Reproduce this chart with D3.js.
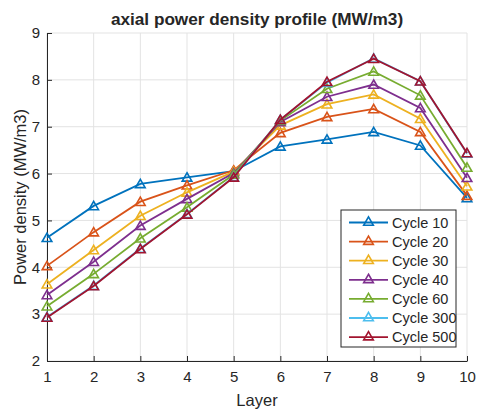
<!DOCTYPE html>
<html>
  <head>
    <meta charset="utf-8" />
    <title>axial power density profile</title>
    <style>
      body { margin: 0; background: #fff; }
      svg text { font-family: "Liberation Sans", Arial, sans-serif; fill: #262626; }
    </style>
  </head>
  <body>
    <svg width="477" height="409"></svg>

    <script type="text/javascript" src="https://d3js.org/d3.v7.min.js"></script>
    <script type="text/javascript">
      // chart data
      const layers = [1, 2, 3, 4, 5, 6, 7, 8, 9, 10];
      const seriesNames = ["Cycle 10", "Cycle 20", "Cycle 30", "Cycle 40", "Cycle 60", "Cycle 300", "Cycle 500"];
      const cycle10  = [4.63, 5.31, 5.78, 5.92, 6.05, 6.58, 6.73, 6.89, 6.60, 5.48];
      const cycle20  = [4.03, 4.75, 5.40, 5.75, 6.07, 6.87, 7.21, 7.38, 6.89, 5.53];
      const cycle30  = [3.64, 4.37, 5.10, 5.60, 6.04, 7.03, 7.48, 7.69, 7.17, 5.73];
      const cycle40  = [3.41, 4.12, 4.89, 5.46, 6.01, 7.10, 7.64, 7.90, 7.40, 5.91];
      const cycle60  = [3.17, 3.86, 4.62, 5.28, 5.98, 7.13, 7.81, 8.18, 7.67, 6.13];
      const cycle300 = [2.94, 3.61, 4.40, 5.14, 5.93, 7.15, 7.94, 8.46, 7.97, 6.43];
      const cycle500 = [2.93, 3.60, 4.39, 5.13, 5.92, 7.15, 7.96, 8.45, 7.97, 6.44];
      const yTicks = [2, 3, 4, 5, 6, 7, 8, 9];

      const allSeries = [cycle10, cycle20, cycle30, cycle40, cycle60, cycle300, cycle500];
      const colors = ["#0072BD", "#D95319", "#EDB120", "#7E2F8E", "#77AC30", "#4DBEEE", "#A2142F"];

      const svg = d3.select("svg");
      const margin = { left: 47, right: 10, top: 33, bottom: 48 };
      const width = 477 - margin.left - margin.right;
      const height = 409 - margin.top - margin.bottom;

      const x = d3.scaleLinear().domain([1, 10]).range([0, width]);
      const y = d3.scaleLinear().domain([2, 9]).range([height, 0]);

      const g = svg.append("g").attr("transform", `translate(${margin.left},${margin.top})`);

      // grid
      g.append("g").selectAll("line").data(layers).join("line")
        .attr("x1", d => x(d)).attr("x2", d => x(d))
        .attr("y1", 0).attr("y2", height)
        .attr("stroke", "#e3e3e3").attr("stroke-width", 1);
      g.append("g").selectAll("line").data(yTicks).join("line")
        .attr("y1", d => y(d)).attr("y2", d => y(d))
        .attr("x1", 0).attr("x2", width)
        .attr("stroke", "#e3e3e3").attr("stroke-width", 1);

      // axes
      const xAxis = g.append("g").attr("transform", `translate(0,${height})`)
        .call(d3.axisBottom(x).tickValues(layers).tickFormat(d3.format("d")).tickSizeInner(-5).tickSizeOuter(0).tickPadding(10));
      const yAxis = g.append("g")
        .call(d3.axisLeft(y).tickValues(yTicks).tickFormat(d3.format("d")).tickSizeInner(-5).tickSizeOuter(0).tickPadding(7));
      [xAxis, yAxis].forEach(a => {
        a.select(".domain").attr("stroke", "#262626");
        a.selectAll(".tick line").attr("stroke", "#262626");
        a.selectAll("text").attr("font-size", 15).attr("fill", "#262626")
          .attr("font-family", "'Liberation Sans', Arial, sans-serif");
      });

      // lines
      const line = d3.line().x((d, i) => x(layers[i])).y(d => y(d));
      const tri = d3.symbol().type(d3.symbolTriangle).size(40);

      allSeries.forEach((vals, si) => {
        g.append("path").datum(vals)
          .attr("d", line)
          .attr("fill", "none")
          .attr("stroke", colors[si])
          .attr("stroke-width", 1.8);
        g.append("g").selectAll("path").data(vals).join("path")
          .attr("d", tri)
          .attr("transform", (d, i) => `translate(${x(layers[i])},${y(d) + 1})`)
          .attr("fill", "none")
          .attr("stroke", colors[si])
          .attr("stroke-width", 1.6);
      });

      // title + labels
      svg.append("text")
        .attr("x", margin.left + width / 2).attr("y", 25)
        .attr("text-anchor", "middle").attr("font-weight", "bold").attr("font-size", 17.2)
        .text("axial power density profile (MW/m3)");
      svg.append("text")
        .attr("x", margin.left + width / 2).attr("y", 406)
        .attr("text-anchor", "middle").attr("font-size", 16.5)
        .text("Layer");
      svg.append("text")
        .attr("transform", `translate(26,${margin.top + height / 2}) rotate(-90)`)
        .attr("text-anchor", "middle").attr("font-size", 16.5)
        .text("Power density (MW/m3)");

      // legend
      const lg = svg.append("g").attr("transform", "translate(341,210)");
      lg.append("rect").attr("width", 115).attr("height", 137)
        .attr("fill", "#fff").attr("stroke", "#262626").attr("stroke-width", 1);
      seriesNames.forEach((name, i) => {
        const cy = 12.5 + i * 19.1;
        lg.append("line").attr("x1", 8).attr("x2", 47).attr("y1", cy).attr("y2", cy)
          .attr("stroke", colors[i]).attr("stroke-width", 1.8);
        lg.append("path").attr("d", tri).attr("transform", `translate(27.5,${cy})`)
          .attr("fill", "none").attr("stroke", colors[i]).attr("stroke-width", 1.6);
        lg.append("text").attr("x", 51).attr("y", cy + 5.3).attr("font-size", 14.5).text(name);
      });
    </script>
  </body>
</html>
